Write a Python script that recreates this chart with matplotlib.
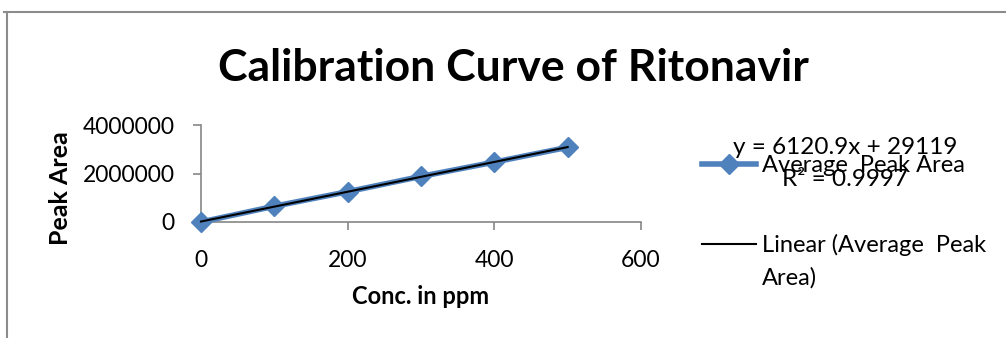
import numpy as np
import matplotlib.pyplot as plt
from matplotlib.lines import Line2D

plt.rcParams['font.family'] = ['Lato', 'DejaVu Sans']

# Data
conc = [0, 100, 200, 300, 400, 500]
peak_area = [0, 650000, 1250000, 1880000, 2470000, 3080000]
x_ticks = [0, 200, 400, 600]
y_ticks = [0, 2000000, 4000000]
equation = 'y = 6120.9x + 29119'
r_squared = 'R² = 0.9997'

fig = plt.figure(figsize=(10.06, 3.38), dpi=100)
ax = fig.add_axes([201/1006, 1 - 222/338, 440/1006, 97/338])

blue = '#4F81BD'
ax.plot(conc, peak_area, color=blue, lw=4, marker='D', ms=10.5,
        clip_on=False, label='Average  Peak Area', zorder=3)

# linear trendline
slope, intercept = np.polyfit(conc, peak_area, 1)
xs = np.array([conc[0], conc[-1]])
ax.plot(xs, slope * xs + intercept, color='black', lw=1.5,
        label='Linear (Average  Peak', zorder=4, clip_on=False)

ax.set_xlim(0, 600)
ax.set_ylim(0, 4000000)
ax.set_xticks(x_ticks)
ax.set_yticks(y_ticks)
ax.set_xticklabels([str(v) for v in x_ticks])
ax.set_yticklabels([str(v) for v in y_ticks])
for s in ['top', 'right']:
    ax.spines[s].set_visible(False)
for s in ['left', 'bottom']:
    ax.spines[s].set_color('#868686')
    ax.spines[s].set_linewidth(1.2)
ax.tick_params(colors='#868686', labelcolor='black', labelsize=16.5,
               length=6, width=1.2)
ax.tick_params(axis='x', pad=14)
ax.tick_params(axis='y', pad=13)

fig.text(421/1006, 1 - 297/338, 'Conc. in ppm', ha='center', va='center',
         fontsize=17, fontweight='bold')
fig.text(60/1006, 1 - 188/338, 'Peak Area', ha='center', va='center',
         rotation=90, fontsize=18, fontweight='bold')
fig.text(513/1006, 1 - 68/338, 'Calibration Curve of Ritonavir',
         ha='center', va='center', fontsize=32, fontweight='bold')

fig.legend(loc='upper left', bbox_to_anchor=(702/1006, 1 - 155/338),
           frameon=False, fontsize=17, handlelength=2.3, handletextpad=0.25,
           labelspacing=2.45, borderpad=0, borderaxespad=0)
# wrapped remainder of the trendline legend label
fig.text(762/1006, 1 - 278/338, 'Area)', ha='left', va='center', fontsize=17)

fig.text(845/1006, 1 - 148/338, equation, ha='center', va='center', fontsize=17.5)
fig.text(845/1006, 1 - 179/338, r_squared, ha='center', va='center', fontsize=17.5)

# outer chart border (only top and left visible)
fig.add_artist(Line2D([4/1006, 1], [1 - 12/338, 1 - 12/338], color='#8c8c8c', lw=1.5))
fig.add_artist(Line2D([7/1006, 7/1006], [0, 1 - 12/338], color='#8c8c8c', lw=1.5))

fig.savefig('out.png', dpi=100)
